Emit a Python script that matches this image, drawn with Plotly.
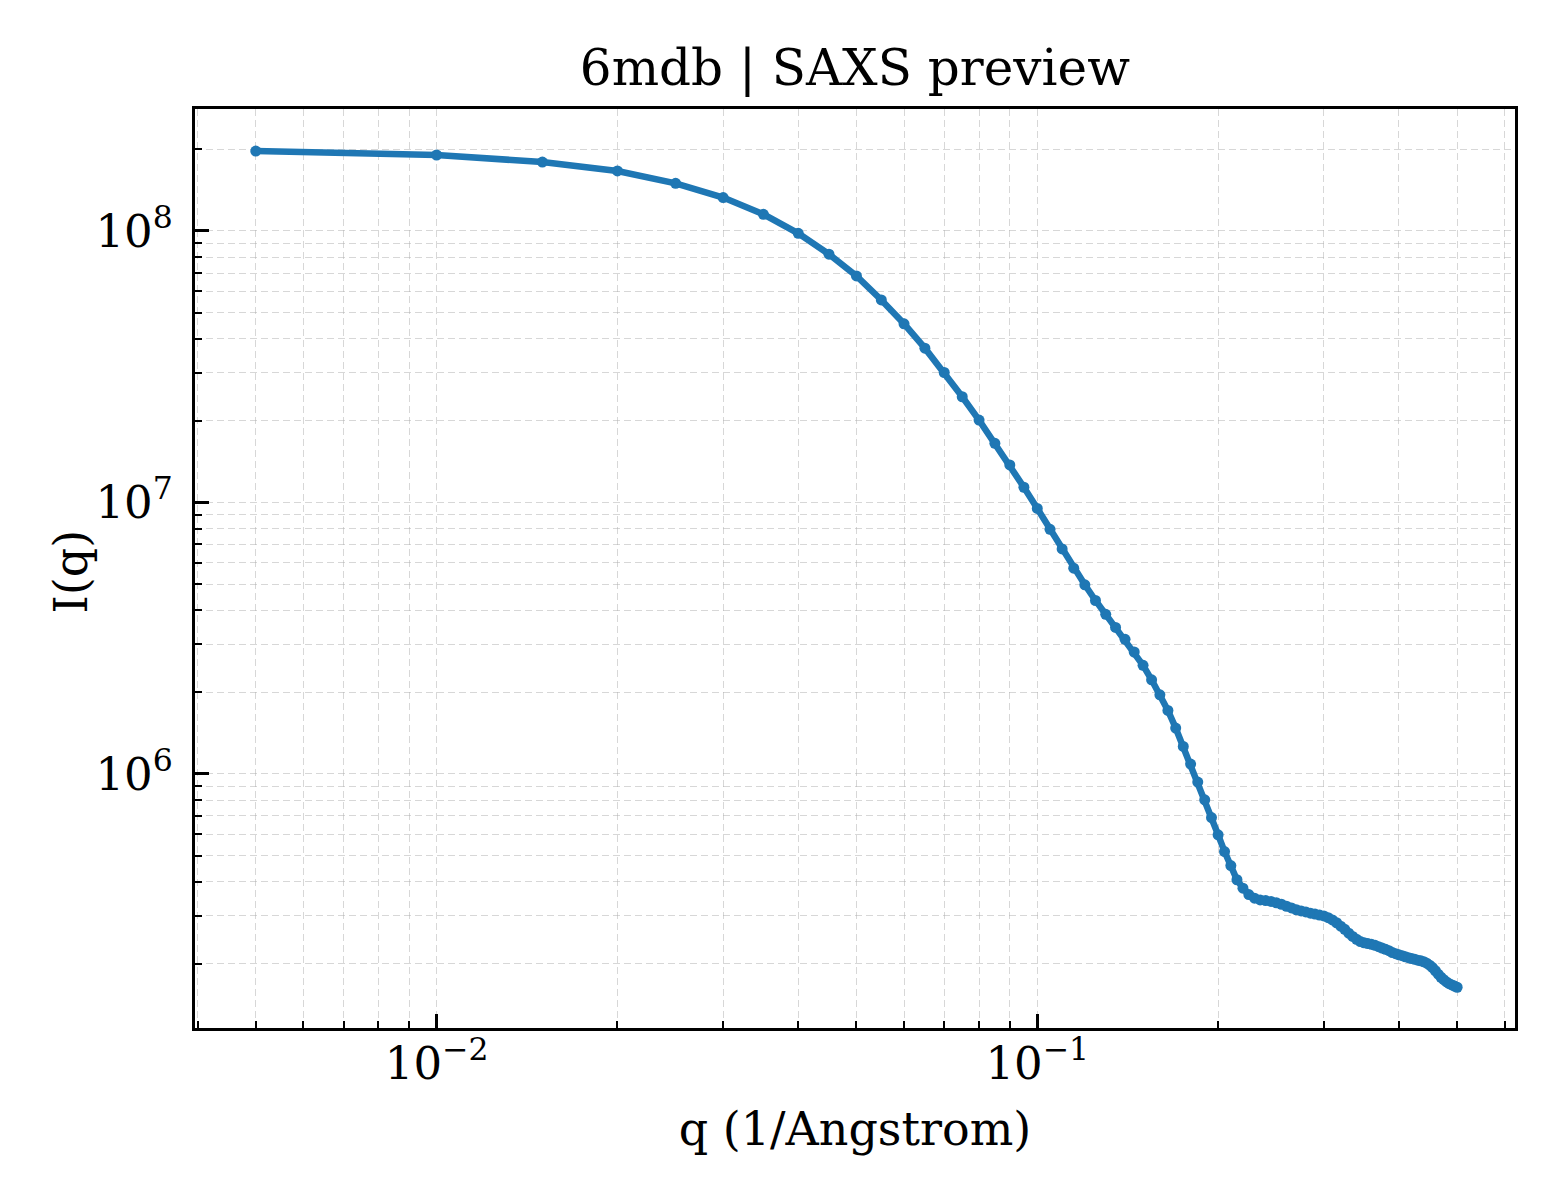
import plotly.graph_objects as go

q_values = [0.005, 0.010, 0.015, 0.020, 0.025, 0.030, 0.035, 0.040, 0.045, 0.050,
            0.055, 0.060, 0.065, 0.070, 0.075, 0.080, 0.085, 0.090, 0.095, 0.100,
            0.105, 0.110, 0.115, 0.120, 0.125, 0.130, 0.135, 0.140, 0.145, 0.150,
            0.155, 0.160, 0.165, 0.170, 0.175, 0.180, 0.185, 0.190, 0.195, 0.200,
            0.205, 0.210, 0.215, 0.220, 0.225, 0.230, 0.235, 0.240, 0.245, 0.250,
            0.255, 0.260, 0.265, 0.270, 0.275, 0.280, 0.285, 0.290, 0.295, 0.300,
            0.305, 0.310, 0.315, 0.320, 0.325, 0.330, 0.335, 0.340, 0.345, 0.350,
            0.355, 0.360, 0.365, 0.370, 0.375, 0.380, 0.385, 0.390, 0.395, 0.400,
            0.405, 0.410, 0.415, 0.420, 0.425, 0.430, 0.435, 0.440, 0.445, 0.450,
            0.455, 0.460, 0.465, 0.470, 0.475, 0.480, 0.485, 0.490, 0.495, 0.500]

intensity = [1.97e8, 1.905e8, 1.795e8, 1.664e8, 1.498e8, 1.327e8, 1.152e8, 9.80e7, 8.21e7, 6.83e7,
             5.57e7, 4.55e7, 3.70e7, 3.01e7, 2.45e7, 2.01e7, 1.65e7, 1.374e7, 1.137e7, 9.50e6,
             7.96e6, 6.74e6, 5.72e6, 4.97e6, 4.35e6, 3.87e6, 3.46e6, 3.13e6, 2.81e6, 2.51e6,
             2.22e6, 1.954e6, 1.712e6, 1.474e6, 1.261e6, 1.086e6, 9.32e5, 8.02e5, 6.90e5, 5.96e5,
             5.17e5, 4.59e5, 4.07e5, 3.79e5, 3.59e5, 3.48e5, 3.43e5, 3.41e5, 3.386e5, 3.349e5,
             3.306e5, 3.251e5, 3.204e5, 3.156e5, 3.124e5, 3.097e5, 3.066e5, 3.042e5, 3.017e5, 2.994e5,
             2.949e5, 2.894e5, 2.826e5, 2.744e5, 2.673e5, 2.586e5, 2.516e5, 2.457e5, 2.410e5, 2.385e5,
             2.369e5, 2.353e5, 2.333e5, 2.306e5, 2.280e5, 2.255e5, 2.229e5, 2.195e5, 2.173e5, 2.153e5,
             2.137e5, 2.117e5, 2.101e5, 2.086e5, 2.072e5, 2.058e5, 2.046e5, 2.030e5, 2.005e5, 1.971e5,
             1.933e5, 1.881e5, 1.826e5, 1.780e5, 1.743e5, 1.711e5, 1.685e5, 1.667e5, 1.651e5, 1.635e5]

title_text = "6mdb | SAXS preview"
x_label = "q (1/Angstrom)"
y_label = "I(q)"

FONT = "DejaVu Serif"
GRID = "rgba(175,175,175,0.5)"

fig = go.Figure()
fig.add_trace(go.Scatter(
    x=q_values, y=intensity, mode="lines+markers",
    line=dict(color="#1f77b4", width=6.5),
    marker=dict(color="#1f77b4", size=11),
    showlegend=False,
))

axis_common = dict(
    type="log",
    showline=True, mirror=True, linecolor="black", linewidth=3,
    ticks="inside", ticklen=14, tickwidth=2.5, tickcolor="black",
    showgrid=True, gridcolor=GRID, gridwidth=1.3, griddash="7px,4px",
    dtick=1, exponentformat="power", showexponent="all",
    tickfont=dict(family=FONT, size=36, color="black"),
    minor=dict(dtick="D1", ticks="inside", ticklen=7, tickwidth=2, tickcolor="black",
               showgrid=True, gridcolor=GRID, gridwidth=1.3, griddash="7px,4px"),
    zeroline=False,
)

# page body has an 8px margin, so the figure is sized 8px smaller
fig.update_layout(
    width=1552, height=1192,
    margin=dict(l=187, r=45, t=101, b=172),
    paper_bgcolor="white", plot_bgcolor="white",
    title=dict(text=title_text, x=0.5457, xanchor="center", y=0.9497, yanchor="middle",
               font=dict(family=FONT, size=50, color="black")),
    xaxis=dict(axis_common, range=[-2.4022, -0.2047], ticklabelstandoff=-4,
               title=dict(text=x_label, font=dict(family=FONT, size=46, color="black"), standoff=24)),
    yaxis=dict(axis_common, range=[5.0634, 8.4494], ticklabelstandoff=12),
    annotations=[dict(text=y_label, xref="paper", yref="paper", x=-0.0939, y=0.4969,
                      xanchor="center", yanchor="middle", textangle=-90, showarrow=False,
                      font=dict(family=FONT, size=46, color="black"))],
)

fig.write_html("out.html")
